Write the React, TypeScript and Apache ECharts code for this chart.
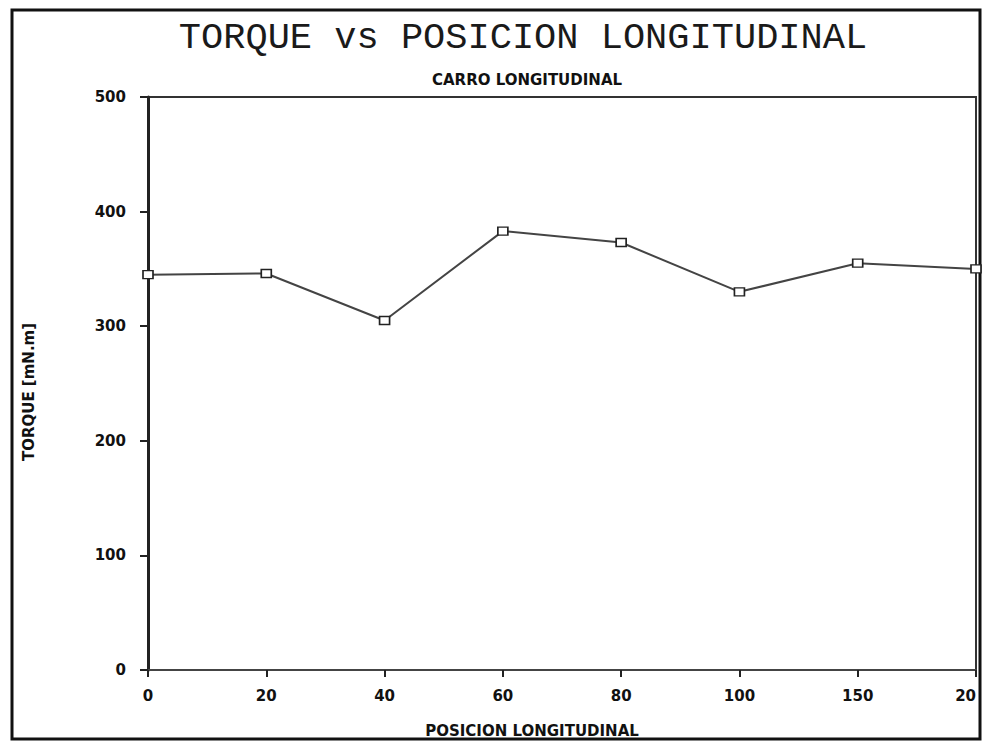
import React, { useEffect, useRef } from "react";
import * as echarts from "echarts";

const positions = ["0", "20", "40", "60", "80", "100", "150", "200"];
const xTickLabels = ["0", "20", "40", "60", "80", "100", "150", "20"];
const torque = [345, 346, 305, 383, 373, 330, 355, 350];
const yTicks = [0, 100, 200, 300, 400, 500];

const titleText = "TORQUE vs POSICION LONGITUDINAL";
const subtitleText = "CARRO LONGITUDINAL";
const xName = "POSICION LONGITUDINAL";
const yName = "TORQUE [mN.m]";

export default function App() {
  const ref = useRef<HTMLDivElement>(null);
  useEffect(() => {
    if (!ref.current) return;
    const chart = echarts.init(ref.current, null, { renderer: "svg" });
    chart.setOption({
      animation: false,
      backgroundColor: "#ffffff",
      grid: {
        left: 148,
        right: 6,
        top: 97,
        bottom: 72,
        outerBoundsMode: "none",
        containLabel: false,
        show: true,
        borderColor: "#333",
        borderWidth: 2,
      },
      graphic: [
        {
          type: "rect",
          shape: { x: 12, y: 10, width: 968, height: 729 },
          style: { fill: "none", stroke: "#111", lineWidth: 3 },
          silent: true,
        },
        {
          type: "text",
          x: 523,
          y: 38,
          style: {
            text: titleText,
            font: "normal 37px 'Liberation Mono'",
            fill: "#1a1a1a",
            textAlign: "center",
            textVerticalAlign: "middle",
          },
        },
        {
          type: "text",
          x: 527,
          y: 80,
          style: {
            text: subtitleText,
            font: "bold 15px 'DejaVu Sans'",
            fill: "#111",
            textAlign: "center",
            textVerticalAlign: "middle",
          },
        },
        {
          type: "text",
          x: 532,
          y: 731,
          style: {
            text: xName,
            font: "bold 15px 'DejaVu Sans'",
            fill: "#111",
            textAlign: "center",
            textVerticalAlign: "middle",
          },
        },
        {
          type: "text",
          x: 29,
          y: 392,
          rotation: Math.PI / 2,
          style: {
            text: yName,
            font: "bold 15px 'DejaVu Sans'",
            fill: "#111",
            textAlign: "center",
            textVerticalAlign: "middle",
          },
        },
      ],
      xAxis: {
        type: "category",
        data: positions,
        boundaryGap: false,
        axisLine: { show: true, lineStyle: { color: "#444", width: 2 } },
        axisTick: {
          show: true,
          alignWithLabel: true,
          length: 7,
          lineStyle: { color: "#222", width: 2 },
        },
        axisLabel: {
          color: "#111",
          fontFamily: "DejaVu Sans",
          fontWeight: "bold",
          fontSize: 15,
          margin: 18,
          showMaxLabel: true,
          showMinLabel: true,
          hideOverlap: false,
          alignMaxLabel: "right",
          formatter: (_v: string, i: number) => xTickLabels[i],
        },
        splitLine: { show: false },
      },
      yAxis: {
        type: "value",
        min: 0,
        max: 500,
        interval: 100,
        axisLine: { show: true, lineStyle: { color: "#222", width: 3 } },
        axisTick: { show: true, length: 8, lineStyle: { color: "#222", width: 2 } },
        axisLabel: {
          color: "#111",
          fontFamily: "DejaVu Sans",
          fontWeight: "bold",
          fontSize: 15,
          margin: 22,
          formatter: (v: number) => (yTicks.includes(v) ? String(v) : ""),
        },
        splitLine: { show: false },
      },
      series: [
        {
          type: "line",
          data: torque,
          symbol: "rect",
          symbolSize: [10, 8],
          showAllSymbol: true,
          itemStyle: { color: "#ffffff", borderColor: "#222", borderWidth: 1.5 },
          lineStyle: { color: "#444", width: 2 },
          clip: false,
        },
      ],
    });
    return () => chart.dispose();
  }, []);
  return <div ref={ref} style={{ width: 982, height: 742, position: "absolute", left: 0, top: 0 }} />;
}
